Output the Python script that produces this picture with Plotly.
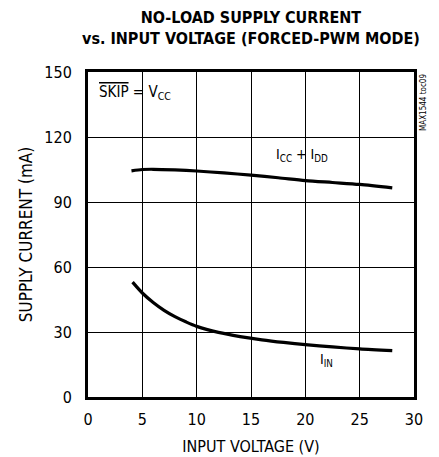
import plotly.graph_objects as go

# Podaci očitani s grafa
v_cc = [4.0, 5.0, 6.0, 8.0, 10.0, 12.5, 15.0, 17.5, 20.0, 22.5, 25.0, 28.0]
i_cc_dd = [104.4, 105.0, 105.1, 104.8, 104.3, 103.4, 102.4, 101.2, 99.9, 99.0, 98.1, 96.5]

v_in = [4.1, 5.0, 6.0, 7.0, 8.0, 9.0, 10.0, 12.0, 14.0, 16.0, 18.0, 20.0, 22.5, 25.0, 28.0]
i_in = [53.0, 48.0, 43.6, 40.0, 37.1, 34.7, 32.6, 29.8, 27.9, 26.4, 25.2, 24.2, 23.1, 22.2, 21.4]

x_ticks = [0, 5, 10, 15, 20, 25, 30]
y_ticks = [0, 30, 60, 90, 120, 150]

FONT = "DejaVu Sans Condensed, Liberation Sans Narrow, Arial Narrow"

fig = go.Figure()

fig.add_trace(go.Scatter(x=v_cc, y=i_cc_dd, mode="lines",
                         line=dict(color="black", width=3.2, shape="spline", smoothing=0.8),
                         showlegend=False))
fig.add_trace(go.Scatter(x=v_in, y=i_in, mode="lines",
                         line=dict(color="black", width=3.2, shape="spline", smoothing=0.8),
                         showlegend=False))

fig.add_annotation(x=0.8, y=140.5, xref="x", yref="y", xanchor="left", showarrow=False,
                   text="<span style='text-decoration:overline'>SKIP</span> = V<sub>CC</sub>",
                   font=dict(size=15, family=FONT, color="black"))
fig.add_annotation(x=17.1, y=111.5, xref="x", yref="y", xanchor="left", showarrow=False,
                   text="I<sub>CC</sub> + I<sub>DD</sub>",
                   font=dict(size=14, family=FONT, color="black"))
fig.add_annotation(x=21.2, y=17, xref="x", yref="y", xanchor="left", showarrow=False,
                   text="I<sub>IN</sub>",
                   font=dict(size=14, family=FONT, color="black"))
fig.add_annotation(x=1.0, y=1.0, xref="paper", yref="paper", xanchor="left", yanchor="top",
                   xshift=3, showarrow=False, textangle=-90,
                   text="MAX1544 toc09",
                   font=dict(size=8, family=FONT, color="black"))
# naslov kao anotacija
fig.add_annotation(x=0.5, y=1.0, xref="paper", yref="paper", xanchor="center", yanchor="bottom",
                   yshift=22, showarrow=False,
                   text="<b>NO-LOAD SUPPLY CURRENT<br>vs. INPUT VOLTAGE (FORCED-PWM MODE)</b>",
                   font=dict(size=16, family=FONT, color="black"))

# tijelo stranice ima marginu od 8 px, pa je figura za toliko manja
fig.update_layout(
    width=431, height=449,
    margin=dict(l=80, r=25, t=64, b=60),
    paper_bgcolor="white", plot_bgcolor="white",
    xaxis=dict(range=[0, 30], tickvals=x_ticks, showgrid=True, gridcolor="black", gridwidth=1,
               zeroline=False, showline=True, linecolor="black", linewidth=3, mirror=True,
               ticks="", automargin=False, ticklabelstandoff=6,
               tickfont=dict(size=16, family=FONT, color="black"),
               title=dict(text="INPUT VOLTAGE (V)", font=dict(size=16, family=FONT, color="black"),
                          standoff=13)),
    yaxis=dict(range=[0, 150], tickvals=y_ticks, showgrid=True, gridcolor="black", gridwidth=1,
               zeroline=False, showline=True, linecolor="black", linewidth=3, mirror=True,
               ticks="", automargin=False, ticklabelstandoff=10,
               tickfont=dict(size=16, family=FONT, color="black"),
               title=dict(text="SUPPLY CURRENT (mA)", font=dict(size=17, family=FONT, color="black"),
                          standoff=8)),
)

fig.write_html("out.html")
